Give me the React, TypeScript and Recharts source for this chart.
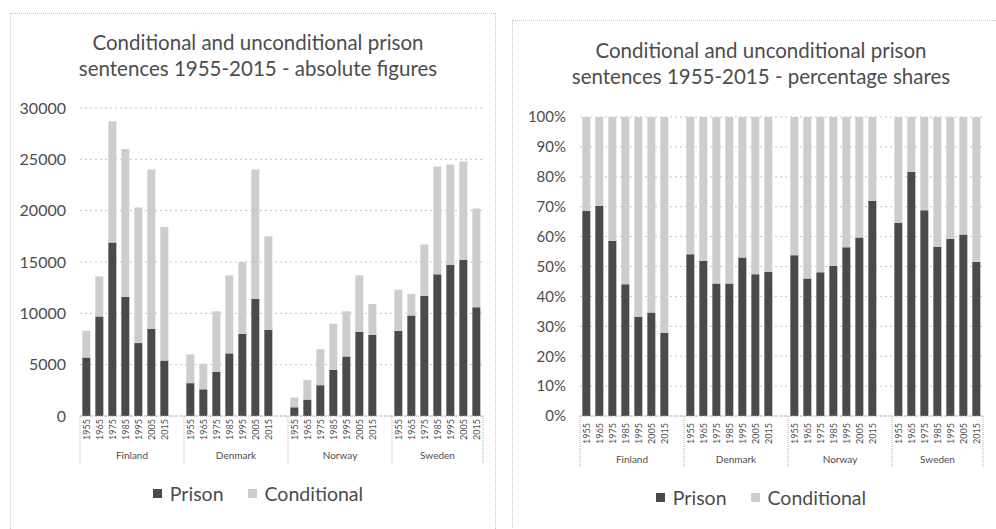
import { BarChart, Bar, XAxis, YAxis, CartesianGrid } from "recharts";

const countries = ["Finland", "Denmark", "Norway", "Sweden"];
const years = ["1955", "1965", "1975", "1985", "1995", "2005", "2015"];

// absolute figures, country by country, 1955..2015
const prisonCount = [
  5700, 9700, 16900, 11600, 7100, 8500, 5400,
  3200, 2600, 4300, 6100, 8000, 11400, 8400,
  850, 1600, 3000, 4500, 5800, 8200, 7900,
  8300, 9800, 11700, 13800, 14700, 15200, 10600,
];
const conditionalCount = [
  2600, 3900, 11800, 14400, 13200, 15500, 13000,
  2800, 2500, 5900, 7600, 7000, 12600, 9100,
  950, 1900, 3500, 4500, 4400, 5500, 3000,
  4000, 2100, 5000, 10500, 9800, 9600, 9600,
];

// percentage shares
const prisonShare = [
  68.6, 70.2, 58.6, 44.1, 33.2, 34.6, 27.8,
  54.1, 51.9, 44.3, 44.3, 53.0, 47.4, 48.2,
  53.8, 46.0, 48.1, 50.2, 56.4, 59.7, 71.9,
  64.6, 81.6, 68.8, 56.6, 59.3, 60.7, 51.6,
];
const conditionalShare = [
  31.4, 29.8, 41.4, 55.9, 66.8, 65.4, 72.2,
  45.9, 48.1, 55.7, 55.7, 47.0, 52.6, 51.8,
  46.2, 54.0, 51.9, 49.8, 43.6, 40.3, 28.1,
  35.4, 18.4, 31.2, 43.4, 40.7, 39.3, 48.4,
];

const countTicks = [0, 5000, 10000, 15000, 20000, 25000, 30000];
const shareTicks = [0, 10, 20, 30, 40, 50, 60, 70, 80, 90, 100];

const PRISON = "#4a4a4a";
const CONDITIONAL = "#cdcdcd";
const TEXT = "#4d4d4d";
const FONT = "Lato, 'Open Sans', sans-serif";

interface Row {
  key: string;
  country: string;
  year: string;
  pos: number;
  size: number;
  last: boolean;
  prison: number | null;
  conditional: number | null;
}

function buildRows(prison: number[], conditional: number[]): Row[] {
  const rows: Row[] = [];
  countries.forEach((country, c) => {
    const hasGap = c < countries.length - 1;
    const size = hasGap ? years.length + 1 : years.length;
    years.forEach((year, i) => {
      const k = c * years.length + i;
      rows.push({
        key: `${country}-${year}`,
        country,
        year,
        pos: i,
        size,
        last: !hasGap && i === years.length - 1,
        prison: prison[k],
        conditional: conditional[k],
      });
    });
    // Excel leaves an empty category between countries
    if (hasGap) {
      rows.push({
        key: `${country}-gap`,
        country,
        year: "",
        pos: years.length,
        size,
        last: false,
        prison: null,
        conditional: null,
      });
    }
  });
  return rows;
}

const countRows = buildRows(prisonCount, conditionalCount);
const shareRows = buildRows(prisonShare, conditionalShare);

const CHART_W = 496;
const CHART_H = 529;
const Y_AXIS_W = 80;
const MARGIN_R = 13;
const PLOT_BOTTOM = 416;
const X_AXIS_H = 50;

interface PanelProps {
  left: number;
  rows: Row[];
  plotTop: number;
  domain: [number, number];
  ticks: number[];
  fmt: (v: number) => string;
  tickFont: number;
  title: string[];
  titleY: number;
  textDx: number;
  yearTop: number;
  countryY: number;
  sepEnd: number;
  legendY: number;
}

function Panel(p: PanelProps) {
  const band = (CHART_W - Y_AXIS_W - MARGIN_R) / p.rows.length;

  const renderTick = (props: any) => {
    const { x, payload } = props;
    const row = p.rows.find((r) => r.key === payload.value);
    if (!row) return <g />;
    const groupStart = x - band / 2 - row.pos * band;
    const center = groupStart + (row.size * band) / 2;
    const tx = x + 3;
    return (
      <g>
        {row.year && (
          <text
            x={tx}
            y={p.yearTop}
            transform={`rotate(-90 ${tx} ${p.yearTop})`}
            textAnchor="end"
            fontSize={9}
            fontFamily={FONT}
            fill={TEXT}
          >
            {row.year}
          </text>
        )}
        {row.pos === 0 && (
          <>
            <line
              x1={groupStart}
              x2={groupStart}
              y1={PLOT_BOTTOM}
              y2={p.sepEnd}
              stroke="#b0b0b0"
              strokeDasharray="1 1"
            />
            <text
              x={center}
              y={p.countryY}
              textAnchor="middle"
              fontSize={10}
              fontFamily={FONT}
              fill={TEXT}
            >
              {row.country}
            </text>
          </>
        )}
        {row.last && (
          <line
            x1={x + band / 2}
            x2={x + band / 2}
            y1={PLOT_BOTTOM}
            y2={p.sepEnd}
            stroke="#b0b0b0"
            strokeDasharray="1 1"
          />
        )}
      </g>
    );
  };

  return (
    <div style={{ position: "absolute", left: p.left, top: 0, width: CHART_W, height: CHART_H }}>
      <div
        style={{
          position: "absolute",
          left: p.textDx,
          top: p.titleY,
          width: CHART_W,
          textAlign: "center",
          fontFamily: FONT,
          fontSize: 20.5,
          lineHeight: "26px",
          color: TEXT,
        }}
      >
        {p.title.map((t) => (
          <div key={t}>{t}</div>
        ))}
      </div>
      <BarChart
        width={CHART_W}
        height={CHART_H}
        data={p.rows}
        margin={{ top: p.plotTop, right: MARGIN_R, left: 0, bottom: CHART_H - PLOT_BOTTOM - X_AXIS_H }}
        barCategoryGap="18%"
      >
        <CartesianGrid vertical={false} stroke="#c4c4c4" strokeDasharray="2 3" />
        <XAxis
          dataKey="key"
          interval={0}
          height={X_AXIS_H}
          tickLine={false}
          axisLine={{ stroke: "#b0b0b0", strokeDasharray: "1 1" }}
          tick={renderTick}
        />
        <YAxis
          width={Y_AXIS_W}
          domain={p.domain}
          ticks={p.ticks}
          tickFormatter={p.fmt}
          axisLine={false}
          tickLine={false}
          tickMargin={8}
          tick={{ fontSize: p.tickFont, fill: TEXT, fontFamily: FONT }}
        />
        <Bar dataKey="prison" stackId="a" fill={PRISON} isAnimationActive={false} />
        <Bar dataKey="conditional" stackId="a" fill={CONDITIONAL} isAnimationActive={false} />
      </BarChart>
      <div
        style={{
          position: "absolute",
          left: p.textDx,
          top: p.legendY - 12,
          width: CHART_W,
          display: "flex",
          justifyContent: "center",
          alignItems: "center",
          gap: 8,
          fontFamily: FONT,
          fontSize: 19.5,
          color: TEXT,
        }}
      >
        <span style={{ width: 9, height: 9, background: PRISON, display: "inline-block" }} />
        <span style={{ marginRight: 16 }}>Prison</span>
        <span style={{ width: 9, height: 9, background: CONDITIONAL, display: "inline-block" }} />
        <span>Conditional</span>
      </div>
    </div>
  );
}

export default function App() {
  return (
    <div style={{ position: "absolute", left: 0, top: 0, width: 996, height: 529, background: "#fff", overflow: "hidden" }}>
      <div style={{ position: "absolute", left: 10, top: 13, width: 484, height: 530, border: "1px dotted #c8c8c8" }} />
      <div style={{ position: "absolute", left: 512, top: 20, width: 490, height: 530, border: "1px dotted #c8c8c8" }} />
      <Panel
        left={0}
        rows={countRows}
        plotTop={108}
        domain={[0, 30000]}
        ticks={countTicks}
        fmt={(v) => String(v)}
        tickFont={16}
        title={["Conditional and unconditional prison", "sentences 1955-2015 - absolute figures"]}
        titleY={29}
        textDx={10}
        yearTop={419}
        countryY={459}
        sepEnd={464}
        legendY={494}
      />
      <Panel
        left={500}
        rows={shareRows}
        plotTop={117}
        domain={[0, 100]}
        ticks={shareTicks}
        fmt={(v) => `${v}%`}
        tickFont={15}
        title={["Conditional and unconditional prison", "sentences 1955-2015 - percentage shares"]}
        titleY={37}
        textDx={13}
        yearTop={423}
        countryY={463}
        sepEnd={468}
        legendY={498}
      />
    </div>
  );
}
